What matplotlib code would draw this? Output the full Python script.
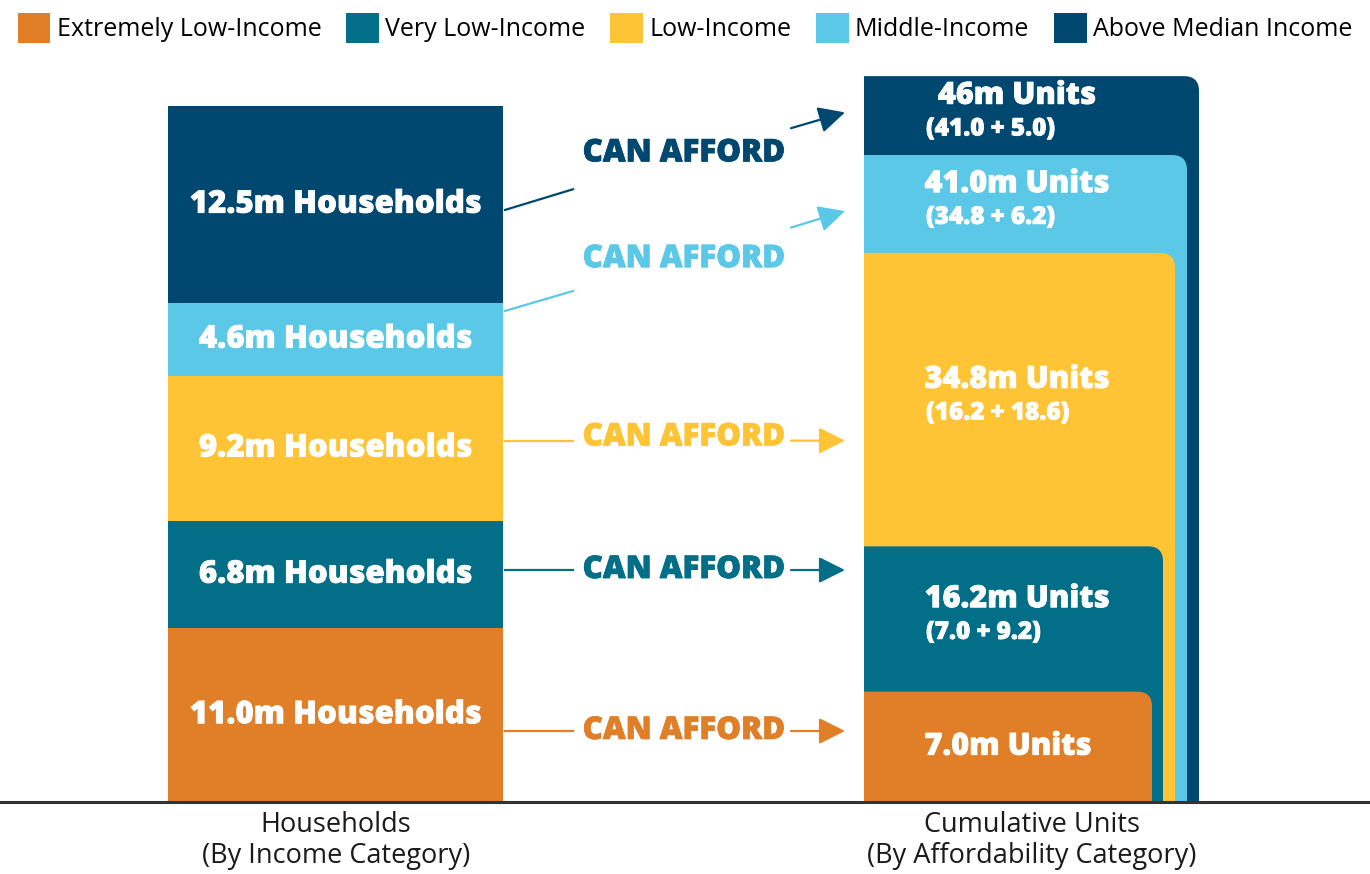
import matplotlib
matplotlib.use("Agg")
import matplotlib.pyplot as plt
import matplotlib.patheffects as pe
from matplotlib.patches import Patch, PathPatch
from matplotlib.path import Path

# ---------------- data ----------------
categories = ["Extremely Low-Income", "Very Low-Income", "Low-Income",
              "Middle-Income", "Above Median Income"]
households = [11.0, 6.8, 9.2, 4.6, 12.5]          # millions
household_labels = ["11.0m Households", "6.8m Households", "9.2m Households",
                    "4.6m Households", "12.5m Households"]
cumulative_units = [7.0, 16.2, 34.8, 41.0, 46.0]  # millions
unit_labels = ["7.0m Units", "16.2m Units", "34.8m Units", "41.0m Units", "46m Units"]
unit_sub_labels = ["", "(7.0 + 9.2)", "(16.2 + 18.6)", "(34.8 + 6.2)", "(41.0 + 5.0)"]
colors = ["#E07F28", "#026E87", "#FFC436", "#5BC8E8", "#004870"]
afford_text = "CAN AFFORD"

# ---------------- layout ----------------
W, H = 1370, 874
fig = plt.figure(figsize=(W / 100, H / 100), dpi=100)
ax = fig.add_axes([0, 0, 1, 1])
PX = 15.78                      # pixels per million
base_px = 802
ax.set_xlim(0, W)
ax.set_ylim(-(H - base_px) / PX, base_px / PX)
ax.axis("off")

BOLD = dict(family=["Open Sans", "DejaVu Sans"], weight="heavy")
REG = dict(family=["Open Sans", "DejaVu Sans"], weight="normal")


def thick(col):
    return [pe.withStroke(linewidth=0.55, foreground=col)]


# left stacked bar
left_x0, left_x1 = 168, 503
bottom = 0.0
for v, c, lab in zip(households, colors, household_labels):
    ax.bar((left_x0 + left_x1) / 2, v, width=left_x1 - left_x0, bottom=bottom,
           color=c, linewidth=0, zorder=2)
    ax.text((left_x0 + left_x1) / 2, bottom + v / 2, lab, ha="center", va="center",
            color="white", fontsize=22.5, zorder=5, path_effects=thick("white"), **BOLD)
    bottom += v

# right nested rounded bars
right_x0 = 864
right_x1 = [1152, 1163, 1175, 1187, 1199]
rad_x = 15
rad_y = 15 / PX


def top_round_box(x0, x1, top):
    verts = [(x0, 0), (x1, 0), (x1, top - rad_y), (x1, top), (x1 - rad_x, top),
             (x0, top), (x0, 0)]
    codes = [Path.MOVETO, Path.LINETO, Path.LINETO, Path.CURVE3, Path.CURVE3,
             Path.LINETO, Path.CLOSEPOLY]
    return Path(verts, codes)


for i in range(len(cumulative_units) - 1, -1, -1):
    ax.add_patch(PathPatch(top_round_box(right_x0, right_x1[i], cumulative_units[i]),
                           facecolor=colors[i], edgecolor="none", zorder=2))

prev = 0.0
for i, top in enumerate(cumulative_units):
    mid = (prev + top) / 2
    if unit_sub_labels[i]:
        ax.text(1017, mid + 1.25, unit_labels[i], ha="center", va="center",
                color="white", fontsize=22, zorder=5, path_effects=thick("white"), **BOLD)
        ax.text(926, mid - 0.85, unit_sub_labels[i], ha="left", va="center",
                color="white", fontsize=17.5, zorder=5, path_effects=thick("white"), **BOLD)
    else:
        ax.text(1008, mid, unit_labels[i], ha="center", va="center",
                color="white", fontsize=22, zorder=5, path_effects=thick("white"), **BOLD)
    prev = top

# connectors: (left line start y, left line end y, text y, arrow start y, arrow end y)
connectors = [
    (4.5, 4.5, 4.5, 4.5, 4.5),
    (14.7, 14.7, 14.7, 14.7, 14.7),
    (22.9, 22.9, 23.1, 22.9, 22.9),
    (31.1, 32.4, 34.4, 36.4, 37.45),
    (37.5, 38.85, 41.1, 42.7, 43.7),
]
for c, (y0, y1, yt, ya0, ya1) in zip(colors, connectors):
    ax.plot([504, 574], [y0, y1], color=c, lw=1.6, solid_capstyle="butt", zorder=3)
    ax.text(684, yt, afford_text, ha="center", va="center", color=c,
            fontsize=22.5, zorder=5, path_effects=thick(c), **BOLD)
    ax.annotate("", xy=(845, ya1), xytext=(791, ya0),
                arrowprops=dict(arrowstyle="-|>,head_length=0.9,head_width=0.45",
                                color=c, lw=1.6, shrinkA=0, shrinkB=0,
                                mutation_scale=18), zorder=3)

# baseline
ax.axhline(0, color="#333333", lw=2.2, zorder=4)

# category labels below
ax.text(336, -0.55, "Households\n(By Income Category)", ha="center", va="top",
        color="#1a1a1a", fontsize=19.5, linespacing=1.15, **REG)
ax.text(1032, -0.55, "Cumulative Units\n(By Affordability Category)", ha="center",
        va="top", color="#1a1a1a", fontsize=19.5, linespacing=1.15, **REG)

# legend
handles = [Patch(facecolor=c, edgecolor="none") for c in colors]
fig.legend(handles, categories, loc="upper left", bbox_to_anchor=(0.004, 1.0),
           ncol=5, frameon=False, handlelength=1.3, handleheight=1.5,
           handletextpad=0.25, columnspacing=1.0, borderaxespad=0.1,
           prop=dict(family=["Open Sans", "DejaVu Sans"], size=18))

fig.savefig("out.png", dpi=100)
